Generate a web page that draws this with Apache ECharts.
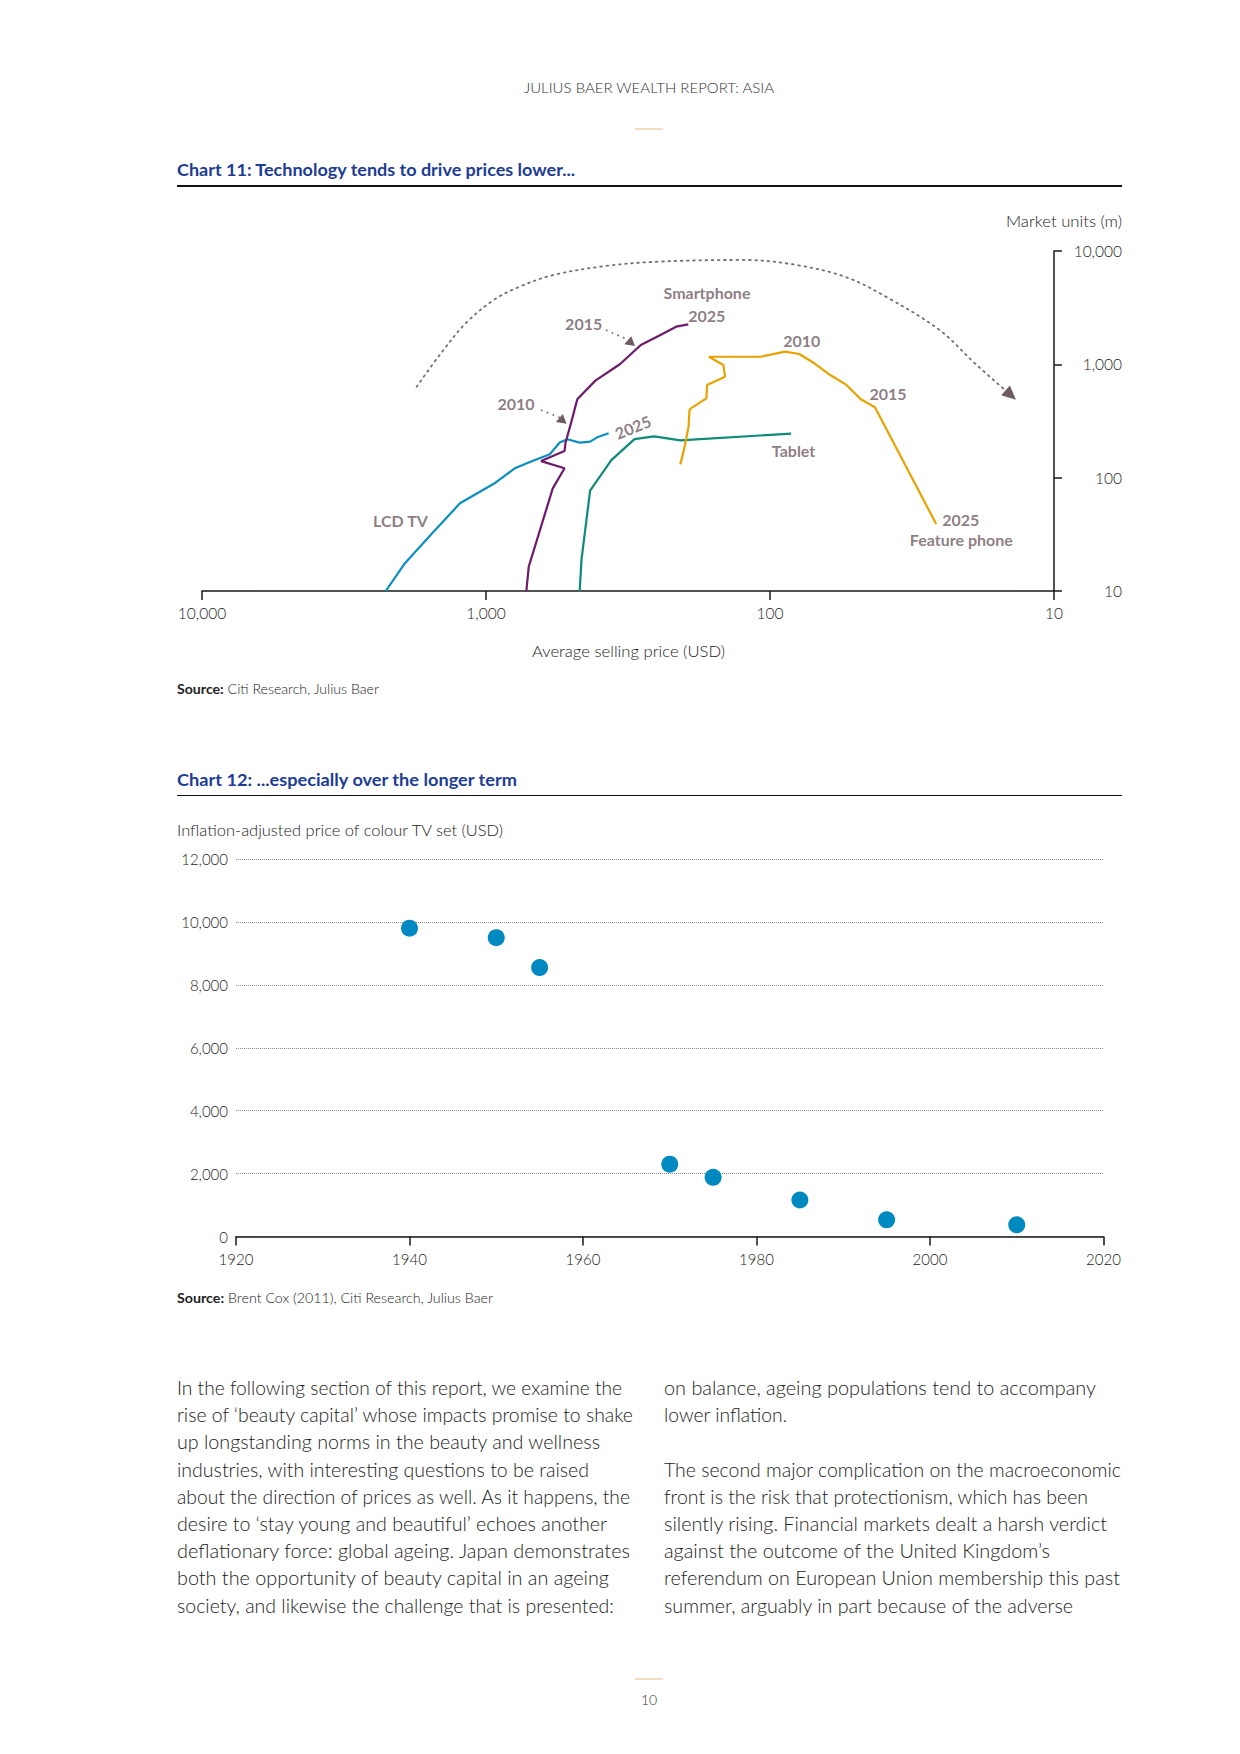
<!DOCTYPE html>
<html><head><meta charset="utf-8">
<script src="https://cdn.jsdelivr.net/npm/echarts@6/dist/echarts.min.js"></script>
<style>
html,body{margin:0;padding:0;background:#fff;}
#page{position:relative;width:1240px;height:1754px;overflow:hidden;background:#fff;}
#chart{position:absolute;left:0;top:0;width:1240px;height:1754px;}
.t{position:absolute;white-space:nowrap;font-family:Lato,'Open Sans',sans-serif;transform-origin:0 50%;}
.rule{position:absolute;}
</style></head><body><div id="page"><div id="chart"></div></div>
<script>
// ---------- Chart 11 data: [average selling price (USD), market units (m)] ----------
const lcdTV = [[2254,10],[1940,17.3],[1567,31.2],[1235,59.4],[926,90.3],[792,121],[697,138],[596,161],[550,204],[517,218],[468,204],[430,208],[406,227],[370,247]];
const smartphone = [[721,10],[707,16.4],[582,80.5],[529,121],[640,140],[529,172],[525,202],[502,303],[477,492],[412,718],[337,1007],[285,1483],[247,1778],[214,2148],[194,2254]];
const tablet = [[468,10],[461,18.9],[430,76.7],[362,143],[300,219],[256,231],[207,213],[84.3,245]];
const featurePhone = [[207,131],[201,175],[193.5,282],[192,395],[190,409],[167.5,501],[166.5,658],[144,778],[146,986],[164,1167],[108,1167],[88.5,1294],[78.9,1234],[69.8,1021],[62.2,822],[53.8,658],[47.9,492],[42.7,418],[26,39]];
const trendArc = [[1755,635],[1441,1250],[1179,2302],[939,3700],[770,4786],[579,6138],[378,7379],[247,8054],[124.6,8337],[80.7,7532],[53.8,5861],[39.1,3954],[25.3,2009],[19,1021],[14.2,536]];
const arrow2015 = [[378,2009],[310,1618]];
const arrow2010 = [[640,395],[540,333]];
const xTicks11 = [10000,1000,100,10];
const yTicks11 = [10,100,1000,10000];
// annotation labels: [price, units, text]
const labels11 = [
  [166.7,4285,'Smartphone'],[167,2723,'2025'],[453,2270,'2015'],[784,453,'2010'],
  [77.3,1618,'2010'],[38.4,558,'2015'],[82.6,175,'Tablet'],[21.3,43,'2025'],
  [21.2,28.6,'Feature phone'],[2000,42.3,'LCD TV']
];
const rotatedLabel11 = [304,280,'2025'];

// ---------- Chart 12 data ----------
const years12 = [1940,1950,1955,1970,1975,1985,1995,2010];
const prices12 = [9800,9500,8550,2300,1880,1160,530,370];

// ---------- page text ----------
const bodyLeft = [
"In the following section of this report, we examine the",
"rise of \u2018beauty capital\u2019 whose impacts promise to shake",
"up longstanding norms in the beauty and wellness",
"industries, with interesting questions to be raised",
"about the direction of prices as well. As it happens, the",
"desire to \u2018stay young and beautiful\u2019 echoes another",
"deflationary force: global ageing. Japan demonstrates",
"both the opportunity of beauty capital in an ageing",
"society, and likewise the challenge that is presented:"];
const bodyLeftW = [445,456,423,412,453,430,453,432,437];
const bodyRight = [
"on balance, ageing populations tend to accompany",
"lower inflation.",
"",
"The second major complication on the macroeconomic",
"front is the risk that protectionism, which has been",
"silently rising. Financial markets dealt a harsh verdict",
"against the outcome of the United Kingdom\u2019s",
"referendum on European Union membership this past",
"summer, arguably in part because of the adverse"];
const bodyRightW = [432,123,0,457,424,443,386,456,409];

const page = document.getElementById('page');
function put(html, x, y, size, weight, color, width, align) {
  const el = document.createElement('div');
  el.className = 't';
  el.innerHTML = html;
  el.style.fontSize = size + 'px';
  el.style.lineHeight = size + 'px';
  el.style.fontWeight = weight;
  el.style.color = color;
  el.style.top = (y - size / 2) + 'px';
  page.appendChild(el);
  const w = el.getBoundingClientRect().width;
  const tw = width || w;
  const k = tw / w;
  let left = x;
  if (align === 'center') left = x - tw / 2;
  if (align === 'right') left = x - tw;
  el.style.left = left + 'px';
  el.style.transform = 'scaleX(' + k + ')';
}
function rule(x, y, w, h, color) {
  const d = document.createElement('div');
  d.className = 'rule';
  d.style.cssText = `left:${x}px;top:${y}px;width:${w}px;height:${h}px;background:${color};`;
  page.appendChild(d);
}
const ink = '#222222';
put('JULIUS BAER WEALTH REPORT: ASIA', 649, 88, 13, 300, '#333', 250, 'center');
rule(635, 128, 28, 2, '#f3dcc0');
put('Chart 11: Technology tends to drive prices lower...', 177, 169, 17, 700, '#1d3c94', 398);
rule(177, 185, 945, 1.5, '#111');
put('Market units (m)', 1122, 222, 15.5, 300, ink, 116, 'right');
put('Average selling price (USD)', 628.5, 652, 15.5, 300, ink, 193, 'center');
put('<b style="font-weight:700">Source:</b> Citi Research, Julius Baer', 177, 689.5, 13.5, 300, ink, 202);
put('Chart 12: ...especially over the longer term', 177, 779, 17, 700, '#1d3c94', 340);
rule(177, 794.5, 945, 1.5, '#111');
put('Inflation-adjusted price of colour TV set (USD)', 177, 830.5, 15.5, 300, ink, 326);
put('<b style="font-weight:700">Source:</b> Brent Cox (2011), Citi Research, Julius Baer', 177, 1299, 13.5, 300, ink, 316);
bodyLeft.forEach((s, i) => put(s, 177, 1387 + i * 27.2, 20, 300, ink, bodyLeftW[i]));
bodyRight.forEach((s, i) => { if (s) put(s, 664, 1387 + i * 27.2, 20, 300, ink, bodyRightW[i]); });
rule(635, 1678, 28, 2, '#f3dcc0');
put('10', 649, 1700, 14, 300, '#333', 0, 'center');

// ---------- chart ----------
const chart = echarts.init(document.getElementById('chart'), null, {renderer: 'svg', width: 1240, height: 1754});
const FONT = 'Lato, "Open Sans", sans-serif';
const axisCol = '#1a1a1a';
const annCol = '#6f5b65';
const fmt = v => Math.round(v).toLocaleString('en-US');
const labelStyle = {fontFamily: FONT, fontSize: 15.5, fontWeight: 300, color: ink};

const option = {
  animation: false,
  grid: [
    {left: 202, top: 251, width: 852, height: 340, outerBoundsMode: 'none', containLabel: false},
    {left: 236, top: 859, width: 867.5, height: 377.5, outerBoundsMode: 'none', containLabel: false}
  ],
  xAxis: [
    {gridIndex: 0, type: 'log', logBase: 10, min: 10, max: 10000, inverse: true,
     axisLine: {show: true, lineStyle: {color: axisCol, width: 1.5}},
     axisTick: {show: true, length: 9, lineStyle: {color: axisCol, width: 1.5}},
     minorTick: {show: false}, splitLine: {show: false},
     axisLabel: Object.assign({margin: 14, formatter: fmt}, labelStyle)},
    {gridIndex: 1, type: 'value', min: 1920, max: 2020, interval: 20,
     axisLine: {show: true, onZero: false, lineStyle: {color: axisCol, width: 1.5}},
     axisTick: {show: true, length: 9, lineStyle: {color: axisCol, width: 1.5}},
     splitLine: {show: false},
     axisLabel: Object.assign({margin: 15, formatter: v => String(v)}, labelStyle, {fontSize: 15})}
  ],
  yAxis: [
    {gridIndex: 0, type: 'log', logBase: 10, min: 10, max: 10000, position: 'right',
     axisLine: {show: true, lineStyle: {color: axisCol, width: 1.5}},
     axisTick: {show: true, length: 8, lineStyle: {color: axisCol, width: 1.5}},
     minorTick: {show: false}, splitLine: {show: false},
     axisLabel: Object.assign({margin: 68, align: 'right', formatter: fmt}, labelStyle)},
    {gridIndex: 1, type: 'value', min: 0, max: 12000, interval: 2000,
     axisLine: {show: false}, axisTick: {show: false},
     splitLine: {show: true, lineStyle: {color: '#8a8a8a', width: 1, type: [1, 1]}},
     axisLabel: Object.assign({margin: 8, formatter: fmt}, labelStyle, {fontSize: 15})}
  ],
  series: [
    {type: 'line', name: 'Trend', xAxisIndex: 0, yAxisIndex: 0, data: trendArc, smooth: 0.35, symbol: 'none',
     lineStyle: {color: '#7b6871', width: 1.8, type: [1.6, 4.6], cap: 'round'}, z: 2},
    {type: 'line', name: 'a2015', xAxisIndex: 0, yAxisIndex: 0, data: arrow2015, symbol: 'none',
     lineStyle: {color: '#7b6871', width: 1.8, type: [1.6, 4.6]}, z: 2},
    {type: 'line', name: 'a2010', xAxisIndex: 0, yAxisIndex: 0, data: arrow2010, symbol: 'none',
     lineStyle: {color: '#7b6871', width: 1.8, type: [1.6, 4.6]}, z: 2},
    {type: 'scatter', name: 'heads', xAxisIndex: 0, yAxisIndex: 0, z: 3,
     itemStyle: {color: annCol, opacity: 1},
     data: [
       {value: trendArc[trendArc.length - 1], symbol: 'triangle', symbolSize: [13, 14], symbolRotate: -132},
       {value: arrow2015[1], symbol: 'triangle', symbolSize: [11, 9], symbolRotate: -10},
       {value: arrow2010[1], symbol: 'triangle', symbolSize: [11, 9], symbolRotate: -10}
     ]},
    {type: 'line', name: 'LCD TV', xAxisIndex: 0, yAxisIndex: 0, data: lcdTV, symbol: 'none', lineStyle: {color: '#0a8fc2', width: 2.2}, z: 4},
    {type: 'line', name: 'Smartphone', xAxisIndex: 0, yAxisIndex: 0, data: smartphone, symbol: 'none', lineStyle: {color: '#6e1a6a', width: 2.2}, z: 4},
    {type: 'line', name: 'Tablet', xAxisIndex: 0, yAxisIndex: 0, data: tablet, symbol: 'none', lineStyle: {color: '#0e8a78', width: 2.2}, z: 4},
    {type: 'line', name: 'Feature phone', xAxisIndex: 0, yAxisIndex: 0, data: featurePhone, symbol: 'none', lineStyle: {color: '#e8a300', width: 2.2}, z: 4},
    {type: 'scatter', name: 'labels', xAxisIndex: 0, yAxisIndex: 0, symbolSize: 0, z: 6, silent: true,
     label: {show: true, position: 'inside', formatter: '{b}', fontFamily: FONT, fontSize: 16, fontWeight: 'bold', color: annCol},
     data: labels11.map(d => ({value: [d[0], d[1]], name: d[2]})).concat([
       {value: [rotatedLabel11[0], rotatedLabel11[1]], name: rotatedLabel11[2], label: {rotate: 22}}
     ])},
    {type: 'scatter', name: 'Colour TV price', xAxisIndex: 1, yAxisIndex: 1, symbolSize: 17,
     itemStyle: {color: '#0089c0', opacity: 1},
     data: years12.map((y, i) => [y, prices12[i]])}
  ]
};
chart.setOption(option);
</script></body></html>
